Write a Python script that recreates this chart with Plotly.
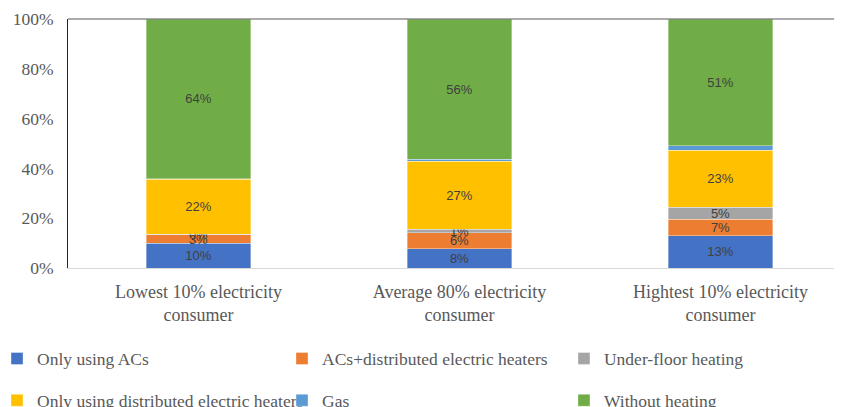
import plotly.graph_objects as go

# ---- data (percent) ----
categories = [
    "Lowest 10% electricity<br>consumer",
    "Average 80% electricity<br>consumer",
    "Hightest 10% electricity<br>consumer",
]
series_names = [
    "Only using ACs",
    "ACs+distributed electric heaters",
    "Under-floor heating",
    "Only using distributed electric heaters",
    "Gas",
    "Without heating",
]
only_acs = [9.9, 7.8, 12.9]
acs_heaters = [3.4, 6.4, 6.6]
under_floor = [0.2, 1.3, 5.0]
only_heaters = [22.2, 27.4, 22.8]
gas = [0.2, 0.7, 1.8]
without_heating = [64.1, 56.4, 50.9]
y_tick_values = [0, 20, 40, 60, 80, 100]
y_tick_labels = ["0%", "20%", "40%", "60%", "80%", "100%"]

series_values = [only_acs, acs_heaters, under_floor, only_heaters, gas, without_heating]
colors = ["#4472C4", "#ED7D31", "#A5A5A5", "#FFC000", "#5B9BD5", "#70AD47"]
show_labels = [True, True, True, True, False, True]
# legend laid out in 3 columns x 2 rows
legend_ids = ["legend", "legend2", "legend3", "legend", "legend2", "legend3"]

fig = go.Figure()
for i, (name, vals, col, lab, lg) in enumerate(zip(series_names, series_values, colors, show_labels, legend_ids)):
    fig.add_trace(go.Bar(
        x=categories,
        y=vals,
        name=name,
        width=0.4,
        marker=dict(color=col, line=dict(color="rgba(255,255,255,0.6)", width=0.6)),
        texttemplate="%{y:.0f}%" if lab else "",
        textposition="inside" if lab else "none",
        insidetextanchor="middle",
        textangle=0,
        textfont=dict(family="Liberation Sans, Arial, sans-serif", size=13, color="#404040"),
        legend=lg,
        legendgroup="g%d" % i,
        hoverinfo="skip",
    ))

serif = "Liberation Serif, Times New Roman, serif"
legend_common = dict(
    orientation="v",
    xanchor="left",
    yanchor="top",
    y=-0.2916,
    traceorder="grouped",
    tracegroupgap=16,
    font=dict(family=serif, size=17.5, color="#595959"),
    bgcolor="rgba(0,0,0,0)",
)

# plot area: 774 px wide, 261 px per category
fig.update_layout(
    width=834,
    height=399,
    margin=dict(l=60, r=0, t=11, b=139, autoexpand=False),
    paper_bgcolor="white",
    plot_bgcolor="white",
    barmode="stack",
    showlegend=True,
    uniformtext=dict(minsize=13, mode="show"),
    legend=dict(x=-0.0917, **legend_common),
    legend2=dict(x=0.2765, **legend_common),
    legend3=dict(x=0.6408, **legend_common),
    xaxis=dict(
        range=[-0.5, 2.4655],
        showline=True,
        linecolor="#D9D9D9",
        linewidth=1,
        showgrid=False,
        ticks="",
        tickfont=dict(family=serif, size=18, color="#595959"),
        ticklabelstandoff=7,
    ),
    yaxis=dict(
        range=[0, 100],
        tickvals=y_tick_values,
        ticktext=y_tick_labels,
        showline=True,
        linecolor="#262626",
        linewidth=1,
        showgrid=False,
        zeroline=False,
        ticks="",
        tickfont=dict(family=serif, size=17.5, color="#595959"),
        ticklabelstandoff=10,
    ),
    shapes=[dict(type="line", xref="paper", yref="paper", x0=0, x1=1, y0=1, y1=1,
                 line=dict(color="#595959", width=1.2), layer="above")],
)

fig.write_html("out.html")
